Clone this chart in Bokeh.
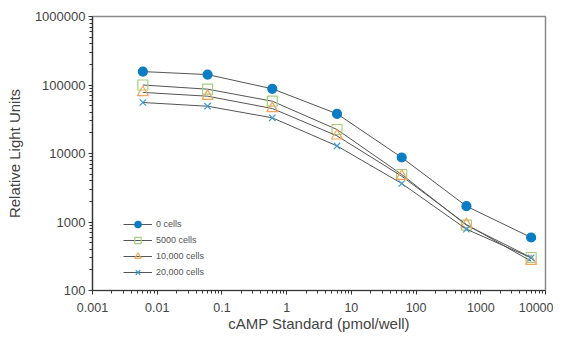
from bokeh.plotting import figure
from bokeh.models import FixedTicker, Legend, LegendItem
from bokeh.embed import file_html
from bokeh.resources import INLINE

camp = [0.006, 0.06, 0.6, 6, 60, 600, 6000]
cells0 = [157000, 142000, 88000, 38000, 8740, 1700, 594]
cells5000 = [100000, 86900, 58000, 22400, 4940, 898, 303]
cells10000 = [78000, 68600, 45400, 18100, 4670, 919, 268]
cells20000 = [55500, 49000, 33200, 12900, 3650, 785, 300]
series_labels = ["0 cells", "5000 cells", "10,000 cells", "20,000 cells"]

x_ticks = [0.001, 0.01, 0.1, 1, 10, 100, 1000, 10000]
x_tick_labels = ["0.001", "0.01", "0.1", "1", "10", "100", "1000", "10000"]
y_ticks = [100, 1000, 10000, 100000, 1000000]
y_tick_labels = ["100", "1000", "10000", "100000", "1000000"]

FONT = "Liberation Sans"

p = figure(frame_width=453, frame_height=274, x_axis_type="log", y_axis_type="log",
           x_range=(x_ticks[0], x_ticks[-1]), y_range=(y_ticks[0], y_ticks[-1]),
           output_backend="svg", toolbar_location=None,
           min_border_left=92, min_border_right=8, min_border_top=16, min_border_bottom=30)

def minors(ticks):
    out = []
    for t in ticks[:-1]:
        out += [t * k for k in range(2, 10)]
    return out

p.xaxis.ticker = FixedTicker(ticks=x_ticks, minor_ticks=minors(x_ticks))
p.yaxis.ticker = FixedTicker(ticks=y_ticks, minor_ticks=minors(y_ticks))
p.xaxis.major_label_overrides = {t: l for t, l in zip(x_ticks, x_tick_labels)}
p.yaxis.major_label_overrides = {t: l for t, l in zip(y_ticks, y_tick_labels)}

p.xgrid.visible = False
p.ygrid.visible = False
p.outline_line_color = "#8a8a8a"
p.outline_line_width = 1.5

for ax in (p.xaxis, p.yaxis):
    ax.axis_line_color = "#333333"
    ax.axis_line_width = 1.2
    ax.major_tick_line_color = "#333333"
    ax.minor_tick_line_color = "#333333"
    ax.major_tick_in = 0
    ax.major_tick_out = 4
    ax.minor_tick_in = 0
    ax.minor_tick_out = 3
    ax.major_label_text_font = FONT
    ax.major_label_text_font_size = "12.5px"
    ax.major_label_text_color = "#444444"
    ax.axis_label_text_font = FONT
    ax.axis_label_text_font_size = "15px"
    ax.axis_label_text_font_style = "normal"
    ax.axis_label_text_color = "#444444"

p.yaxis.major_label_text_font_size = "13px"
p.xaxis.axis_label = "cAMP Standard (pmol/well)"
p.yaxis.axis_label = "Relative Light Units"
p.xaxis.major_label_standoff = 8
p.xaxis.axis_label_standoff = 0
p.yaxis.major_label_standoff = 3
p.yaxis.axis_label_standoff = 9

line_color = "#555555"
specs = [
    (cells0, "circle", 9, "#0a7cc4", "#0a7cc4"),
    (cells5000, "square", 10, "#a4d07a", None),
    (cells10000, "triangle", 11, "#f5a55a", None),
    (cells20000, "x", 9, "#3a9ad9", None),
]

items = []
for (vals, marker, size, color, fill), lab in zip(specs, series_labels):
    ln = p.line(camp, vals, line_color=line_color, line_width=1)
    sc = p.scatter(camp, vals, marker=marker, size=size, line_color=color,
                   fill_color=fill, line_width=1.2)
    items.append(LegendItem(label=lab, renderers=[ln, sc]))

legend = Legend(items=items, location=(31, 10), border_line_color=None,
                background_fill_alpha=0, padding=0, margin=0, spacing=0,
                glyph_width=29, glyph_height=16, label_height=16,
                label_text_font=FONT, label_text_font_size="9px",
                label_text_color="#555555", label_standoff=4)
p.add_layout(legend, "center")

open("out.html", "w").write(file_html(p, INLINE))
